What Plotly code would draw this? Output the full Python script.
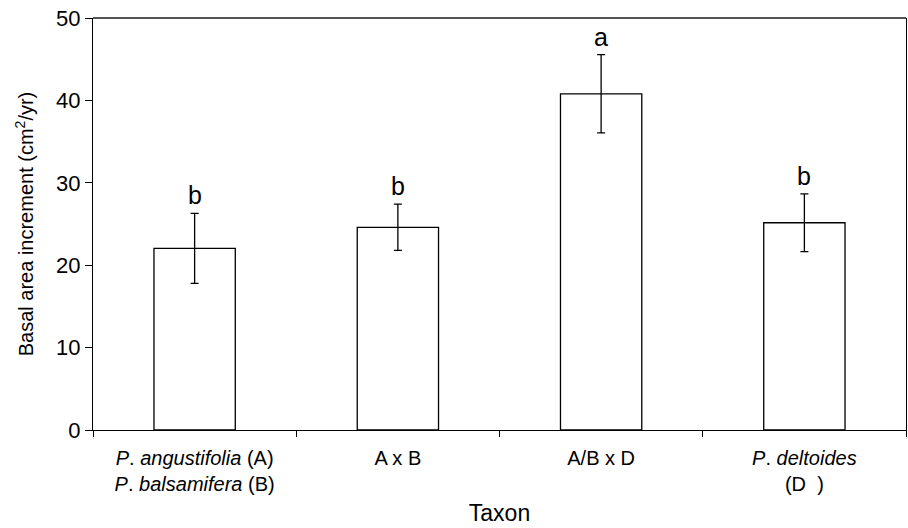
import plotly.graph_objects as go

categories = ["P. angustifolia (A) / P. balsamifera (B)", "A x B", "A/B x D", "P. deltoides (D)"]
tick_labels = ["<i>P</i>. <i>angustifolia</i> (A)<br><i>P</i>. <i>balsamifera</i> (B)",
               "A x B", "A/B x D", "<i>P</i>. <i>deltoides</i><br>(D  )"]
means = [22.05, 24.6, 40.8, 25.15]
errors = [4.25, 2.8, 4.75, 3.5]
letters = ["b", "b", "a", "b"]

font = "Liberation Sans, Arial, sans-serif"

fig = go.Figure()
fig.add_trace(go.Bar(
    x=categories, y=means, width=0.4,
    marker=dict(color="white", line=dict(color="black", width=1.3)),
    error_y=dict(type="data", array=errors, color="black", thickness=1.3, width=4),
))
for c, m, e, l in zip(categories, means, errors, letters):
    fig.add_annotation(x=c, y=m + e, text=l, showarrow=False, yanchor="bottom",
                       yshift=2, font=dict(size=25, color="black", family=font))

fig.add_shape(type="line", xref="paper", yref="paper", x0=0, x1=1, y0=1, y1=1,
              line=dict(color="#555555", width=2))

fig.update_layout(
    width=908, height=528,
    margin=dict(l=93, r=2, t=18, b=98),
    paper_bgcolor="white", plot_bgcolor="white",
    showlegend=False,
    font=dict(family=font, color="black"),
    xaxis=dict(
        type="category", tickvals=categories, ticktext=tick_labels,
        tickson="boundaries", ticks="outside", ticklen=6, tickcolor="black",
        ticklabelstandoff=10,
        showline=True, linecolor="black", linewidth=1.3,
        tickfont=dict(size=20, color="black", family=font),
        title=dict(text="Taxon", font=dict(size=23, color="black", family=font), standoff=10),
        showgrid=False, range=[-0.5, 3.5],
    ),
    yaxis=dict(
        range=[0, 50], tickvals=[0, 10, 20, 30, 40, 50],
        ticks="outside", ticklen=7, tickcolor="black",
        showline=True, linecolor="black", linewidth=1.3, mirror=True,
        tickfont=dict(size=22, color="black", family=font),
        title=dict(text="Basal area increment (cm<sup>2</sup>/yr)",
                   font=dict(size=20, color="black", family=font), standoff=16),
        showgrid=False, zeroline=False,
    ),
)

fig.write_html("out.html", config={"displayModeBar": False},
               post_script="document.body.style.margin='0px';document.body.style.padding='0px';")
